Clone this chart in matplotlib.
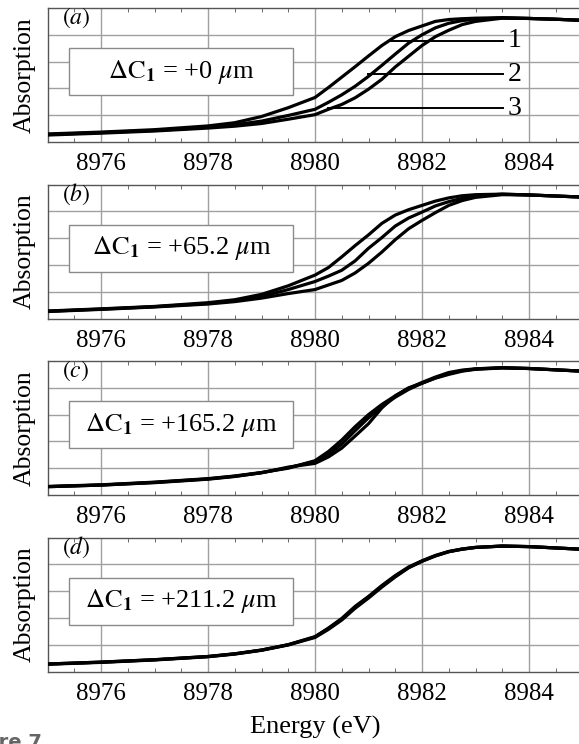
import matplotlib.pyplot as plt
from matplotlib.patches import Rectangle
from matplotlib.ticker import MultipleLocator

plt.rcParams["font.family"] = ["Liberation Serif", "DejaVu Serif"]
plt.rcParams["mathtext.fontset"] = "stix"

# energy grid (eV) shared by all curves
energy = [8975, 8976, 8977, 8978, 8978.5, 8979, 8979.5, 8980, 8980.25, 8980.5,
          8980.75, 8981, 8981.25, 8981.5, 8981.75, 8982, 8982.25, 8982.5,
          8982.75, 8983, 8983.5, 8984, 8984.5, 8985]

# absorption (arbitrary units, 0..5 grid divisions), three curves per panel
a_1 = [0.30, 0.37, 0.46, 0.60, 0.72, 0.95, 1.28, 1.66, 2.03, 2.42, 2.81, 3.21,
       3.60, 3.93, 4.16, 4.33, 4.50, 4.57, 4.60, 4.62, 4.64, 4.61, 4.58, 4.54]
a_2 = [0.28, 0.35, 0.43, 0.55, 0.64, 0.78, 0.99, 1.22, 1.48, 1.76, 2.08, 2.45,
       2.86, 3.28, 3.69, 4.00, 4.26, 4.43, 4.53, 4.58, 4.63, 4.61, 4.58, 4.54]
a_3 = [0.26, 0.33, 0.41, 0.52, 0.59, 0.69, 0.85, 1.02, 1.22, 1.40, 1.65, 1.97,
       2.34, 2.80, 3.20, 3.60, 3.93, 4.17, 4.38, 4.50, 4.62, 4.61, 4.58, 4.54]

b_1 = [0.28, 0.36, 0.45, 0.59, 0.70, 0.90, 1.22, 1.62, 1.90, 2.30, 2.72, 3.12,
       3.55, 3.86, 4.06, 4.22, 4.38, 4.50, 4.58, 4.62, 4.64, 4.61, 4.57, 4.53]
b_2 = [0.27, 0.35, 0.44, 0.56, 0.66, 0.82, 1.08, 1.38, 1.58, 1.80, 2.15, 2.62,
       3.02, 3.45, 3.75, 3.97, 4.20, 4.36, 4.48, 4.57, 4.64, 4.61, 4.57, 4.53]
b_3 = [0.26, 0.34, 0.43, 0.54, 0.63, 0.76, 0.93, 1.08, 1.25, 1.42, 1.70, 2.06,
       2.48, 2.94, 3.35, 3.66, 3.95, 4.22, 4.40, 4.52, 4.62, 4.61, 4.57, 4.53]

c_1 = [0.32, 0.38, 0.48, 0.61, 0.71, 0.84, 1.00, 1.28, 1.62, 2.05, 2.55, 3.00,
       3.38, 3.70, 3.98, 4.20, 4.40, 4.57, 4.66, 4.71, 4.75, 4.72, 4.67, 4.62]
c_2 = [0.31, 0.37, 0.47, 0.60, 0.70, 0.83, 1.02, 1.25, 1.52, 1.90, 2.40, 2.88,
       3.30, 3.65, 3.94, 4.17, 4.37, 4.53, 4.64, 4.70, 4.75, 4.72, 4.67, 4.62]
c_3 = [0.31, 0.37, 0.46, 0.59, 0.69, 0.83, 1.04, 1.18, 1.42, 1.75, 2.20, 2.66,
       3.25, 3.70, 4.00, 4.17, 4.36, 4.50, 4.62, 4.69, 4.74, 4.72, 4.67, 4.62]

d_1 = [0.28, 0.35, 0.44, 0.56, 0.66, 0.80, 1.00, 1.30, 1.62, 1.98, 2.43, 2.80,
       3.21, 3.58, 3.90, 4.13, 4.33, 4.48, 4.57, 4.63, 4.68, 4.66, 4.61, 4.56]
d_2 = [0.28, 0.35, 0.44, 0.56, 0.66, 0.80, 1.00, 1.29, 1.60, 1.95, 2.40, 2.78,
       3.18, 3.55, 3.88, 4.12, 4.32, 4.47, 4.57, 4.63, 4.68, 4.66, 4.61, 4.56]
d_3 = [0.27, 0.34, 0.43, 0.55, 0.65, 0.79, 0.99, 1.27, 1.57, 1.92, 2.36, 2.74,
       3.15, 3.53, 3.87, 4.11, 4.31, 4.47, 4.56, 4.63, 4.68, 4.66, 4.61, 4.56]

panel_tags = ["a", "b", "c", "d"]
shifts = ["+0", "+65.2", "+165.2", "+211.2"]
panel_curves = [[a_1, a_2, a_3], [b_1, b_2, b_3], [c_1, c_2, c_3], [d_1, d_2, d_3]]

# numbered leader lines in panel (a)
leader_labels = ["1", "2", "3"]
leader_start = [8981.40, 8980.99, 8980.24]
leader_y = [3.77, 2.53, 1.26]
leader_end = 8983.52

xticks = [8976, 8978, 8980, 8982, 8984]


def draw_panel(ax, curves, tag, shift):
    ax.set_xlim(8975, 8985)
    ax.set_ylim(0, 5)
    ax.set_xticks(xticks)
    ax.set_xticklabels([str(t) for t in xticks])
    ax.xaxis.set_minor_locator(MultipleLocator(0.5))
    ax.set_yticks([1, 2, 3, 4])
    ax.set_yticklabels([])
    ax.tick_params(axis="both", which="both", direction="in", top=True,
                   right=False, color="#555555")
    ax.tick_params(axis="x", which="major", length=0, labelsize=18, pad=8)
    ax.tick_params(axis="x", which="minor", length=3)
    ax.tick_params(axis="y", length=0)
    ax.grid(True, which="major", color="#a0a0a0", lw=1.0)
    for s in ax.spines.values():
        s.set_color("#555555")
        s.set_linewidth(1.0)
    ax.set_axisbelow(True)

    for y in curves:
        ax.plot(energy, y, color="black", lw=2.3, solid_joinstyle="round", zorder=3)

    ax.set_ylabel("Absorption", fontsize=18.5, labelpad=5)
    ax.text(8975.28, 4.62, r"$(\mathit{%s})$" % tag, fontsize=17,
            ha="left", va="center")

    ax.add_patch(Rectangle((8975.40, 1.75), 4.19, 1.75, facecolor="white",
                           edgecolor="#8a8a8a", lw=1.0, zorder=4))
    ax.text(8977.5, 2.62, r"$\Delta\mathrm{C}_{\mathbf{1}}$ = %s $\mu$m" % shift,
            fontsize=19, ha="center", va="center", zorder=5)


fig = plt.figure(figsize=(5.79, 7.44), dpi=100)
left = 47.5 / 579
width = 535 / 579
height = 134 / 744
for i in range(4):
    bottom = 1 - (142 + i * 176.5) / 744
    ax = fig.add_axes([left, bottom, width, height])
    draw_panel(ax, panel_curves[i], panel_tags[i], shifts[i])
    if i == 0:
        for lab, xs, yl in zip(leader_labels, leader_start, leader_y):
            ax.plot([xs, leader_end], [yl, yl], color="black", lw=1.4, zorder=3)
            ax.text(leader_end + 0.08, yl, lab, fontsize=20, ha="left",
                    va="center", zorder=5)
    if i == 3:
        ax.set_xlabel("Energy (eV)", fontsize=19, labelpad=8)

fig.text(42 / 579, 1 - 733 / 744, "Figure 7", fontsize=14, color="#666666",
         ha="right", va="top", family="DejaVu Sans", weight="bold")

plt.savefig("out.png", dpi=100)
